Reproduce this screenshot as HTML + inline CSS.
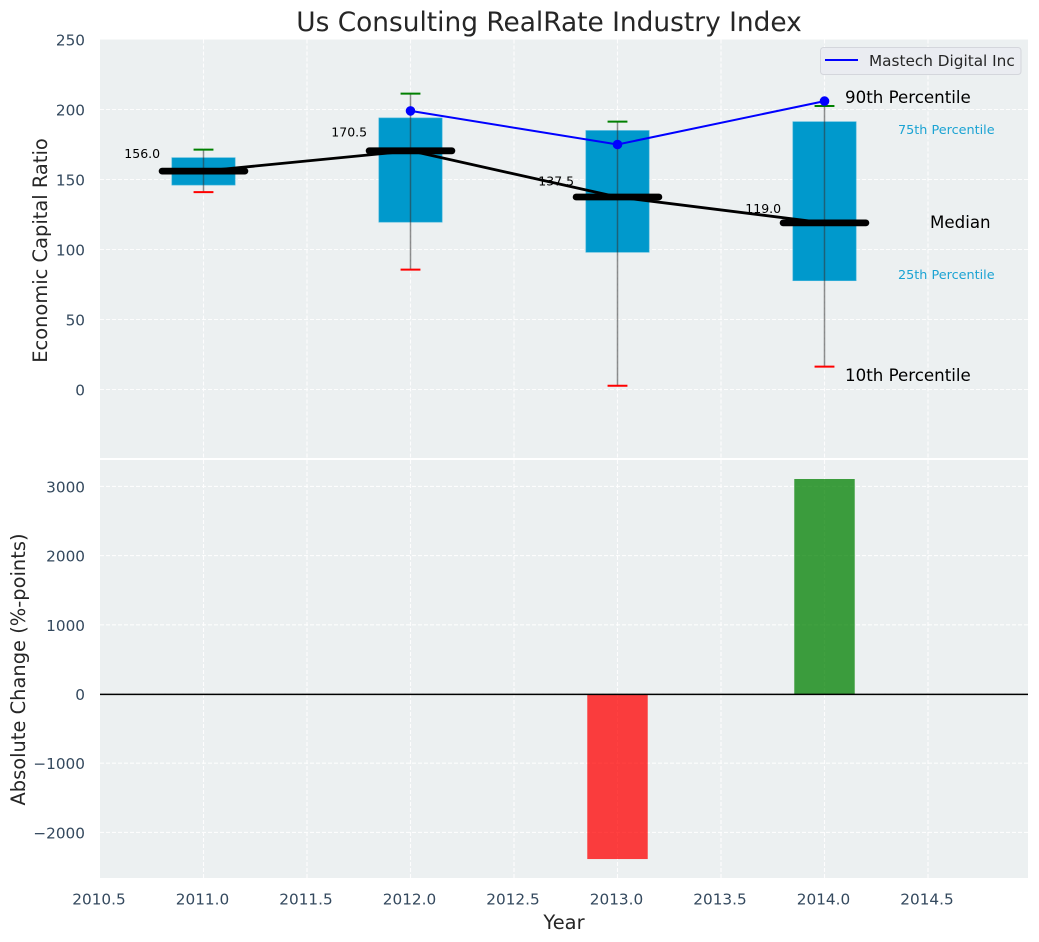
<!DOCTYPE html>
<html lang="en">
<head>
<meta charset="utf-8">
<title>Us Consulting RealRate Industry Index</title>
<style>
html,body{margin:0;padding:0;background:#fff;width:1039px;height:942px;overflow:hidden}
svg{display:block;font-family:"DejaVu Sans","Liberation Sans",sans-serif}
.tick{fill:#34495e;font-size:15.28px}
.axis-title{fill:#262626;font-size:19.44px}
</style>
</head>
<body>
<svg id="chart" xmlns="http://www.w3.org/2000/svg" width="1039" height="942" viewBox="0 0 1039 942">
  <rect x="0" y="0" width="1039" height="942" fill="#ffffff"/>
  <rect x="100" y="39.5" width="928" height="418.5" fill="#ecf0f1"/>
  <rect x="100" y="460" width="928" height="418" fill="#ecf0f1"/>
  <g id="grid"></g>
  <g id="top-marks"></g>
  <g id="bottom-marks"></g>
  <g id="ticks"></g>
  <text x="549" y="31" text-anchor="middle" font-size="26.4" fill="#262626">Us Consulting RealRate Industry Index</text>
  <text class="axis-title" text-anchor="middle" transform="translate(47,250.5) rotate(-90)">Economic Capital Ratio</text>
  <text class="axis-title" text-anchor="middle" transform="translate(25,669.5) rotate(-90)">Absolute Change (%-points)</text>
  <text class="axis-title" x="564" y="929" text-anchor="middle">Year</text>
  <g>
    <rect x="820.5" y="47.5" width="200.5" height="27" rx="3" fill="#eaecf1" stroke="#d4d6dc" stroke-width="1"/>
    <line x1="825" y1="60" x2="858" y2="60" stroke="#0000ff" stroke-width="2"/>
    <text x="869" y="66" font-size="15.28" fill="#262626">Mastech Digital Inc</text>
  </g>
  <g>
    <text x="845" y="103" font-size="16.67" fill="#000">90th Percentile</text>
    <text x="898" y="134" font-size="12.8" fill="#1ba3d3">75th Percentile</text>
    <text x="930" y="228" font-size="16.67" fill="#000">Median</text>
    <text x="898" y="279" font-size="12.8" fill="#1ba3d3">25th Percentile</text>
    <text x="845" y="381" font-size="16.67" fill="#000">10th Percentile</text>
  </g>
</svg>
<script>
// Chart data
const years = [2011, 2012, 2013, 2014];
const p90 = [171.3, 211.3, 191.3, 202.5];
const p75 = [165.6, 194, 185, 191.3];
const medians = [156, 170.5, 137.5, 119];
const p25 = [146, 119.5, 98, 77.7];
const p10 = [141, 85.6, 2.7, 16.3];
const companyYears = [2012, 2013, 2014];
const companyValues = [199, 175, 206];
const changeYears = [2013, 2014];
const changeValues = [-2385, 3107];
const xTicks = [2010.5, 2011, 2011.5, 2012, 2012.5, 2013, 2013.5, 2014, 2014.5];
const topYTicks = [0, 50, 100, 150, 200, 250];
const bottomYTicks = [-2000, -1000, 0, 1000, 2000, 3000];

// Axis functions
const x = v => 100 + (v - 2010.5) * 207;
const yTop = v => 389.5 - v * 1.4;
const yBottom = v => 694 - v * 0.0692;

const NS = 'http://www.w3.org/2000/svg';
function add(parent, tag, attrs, text) {
  const el = document.createElementNS(NS, tag);
  for (const k in attrs) el.setAttribute(k, attrs[k]);
  if (text !== undefined) el.textContent = text;
  parent.appendChild(el);
  return el;
}
const gridG = document.getElementById('grid');
const topG = document.getElementById('top-marks');
const botG = document.getElementById('bottom-marks');
const tickG = document.getElementById('ticks');
const gridStyle = {stroke: '#ffffff', 'stroke-width': 1.1, 'stroke-dasharray': '4 2', opacity: 0.9};

// Grid and x ticks
xTicks.forEach(t => {
  if (t > 2010.5) {
    const a = add(gridG, 'line', {x1: x(t), x2: x(t), y1: 39.5, y2: 458, ...gridStyle});
    
    
    const b = add(gridG, 'line', {x1: x(t), x2: x(t), y1: 460, y2: 878, ...gridStyle});
    
    
  }
  const lab = add(tickG, 'text', {class: 'tick', x: x(t) - 1, y: 904.5, 'text-anchor': 'middle'}, t.toFixed(1));
  
  
});
topYTicks.forEach(t => {
  if (t < 250) {
    const g = add(gridG, 'line', {x1: 100, x2: 1028, y1: yTop(t), y2: yTop(t), ...gridStyle});
    
    
  }
  const lab = add(tickG, 'text', {class: 'tick', x: 85, y: yTop(t) + 6, 'text-anchor': 'end'}, String(t));
  
  
});
bottomYTicks.forEach(t => {
  const g = add(gridG, 'line', {x1: 100, x2: 1028, y1: yBottom(t), y2: yBottom(t), ...gridStyle});
  
  
  const txt = t < 0 ? '\u2212' + Math.abs(t) : String(t);
  const lab = add(tickG, 'text', {class: 'tick', x: 85, y: yBottom(t) + 6, 'text-anchor': 'end'}, txt);
  
  
});

// Boxes, whiskers, caps
const boxHalf = 0.153, capHalf = 0.048, medHalf = 0.2;
years.forEach((yr, i) => {
  const box = add(topG, 'rect', {x: x(yr - boxHalf), y: yTop(p75[i]), width: x(yr + boxHalf) - x(yr - boxHalf), height: yTop(p25[i]) - yTop(p75[i]), fill: '#0099cc', stroke: '#4db8dc', 'stroke-width': 0.6});
  
  
  const w = add(topG, 'line', {x1: x(yr), x2: x(yr), y1: yTop(p90[i]), y2: yTop(p10[i]), stroke: '#333333', 'stroke-width': 1.5, 'stroke-opacity': 0.55});
  
  
  const hi = add(topG, 'line', {x1: x(yr - capHalf), x2: x(yr + capHalf), y1: yTop(p90[i]), y2: yTop(p90[i]), stroke: '#008000', 'stroke-width': 2});
  
  
  const lo = add(topG, 'line', {x1: x(yr - capHalf), x2: x(yr + capHalf), y1: yTop(p10[i]), y2: yTop(p10[i]), stroke: '#ff0000', 'stroke-width': 2});
  
  
});

// Median trend line and median bars
const medLine = add(topG, 'polyline', {points: years.map((yr, i) => x(yr) + ',' + yTop(medians[i])).join(' '), fill: 'none', stroke: '#000', 'stroke-width': 2.8});


years.forEach((yr, i) => {
  const m = add(topG, 'line', {x1: x(yr - medHalf), x2: x(yr + medHalf), y1: yTop(medians[i]), y2: yTop(medians[i]), stroke: '#000', 'stroke-width': 6.8, 'stroke-linecap': 'round'});
  
  
  const t = add(topG, 'text', {x: x(yr - medHalf) - 2, y: yTop(medians[i] * 1.06), 'text-anchor': 'end', 'font-size': 12.5, fill: '#000'}, medians[i].toFixed(1));
  
  
});

// Company series
const coLine = add(topG, 'polyline', {points: companyYears.map((yr, i) => x(yr) + ',' + yTop(companyValues[i])).join(' '), fill: 'none', stroke: '#0000ff', 'stroke-width': 2});


companyYears.forEach((yr, i) => {
  const c = add(topG, 'circle', {cx: x(yr), cy: yTop(companyValues[i]), r: 4.8, fill: '#0000ff'});
  
  
});

// Change bars
const barHalf = 0.146;
changeYears.forEach((yr, i) => {
  const v = changeValues[i];
  const top = Math.min(yBottom(v), yBottom(0));
  const h = Math.abs(yBottom(v) - yBottom(0));
  const b = add(botG, 'rect', {x: x(yr - barHalf), y: top, width: x(yr + barHalf) - x(yr - barHalf), height: h, fill: v < 0 ? '#ff0000' : '#008000', 'fill-opacity': 0.75});
  
  
});
const zero = add(botG, 'line', {x1: 100, x2: 1028, y1: yBottom(0) + 0.4, y2: yBottom(0) + 0.4, stroke: '#000', 'stroke-width': 1.5});


</script>
</body>
</html>
